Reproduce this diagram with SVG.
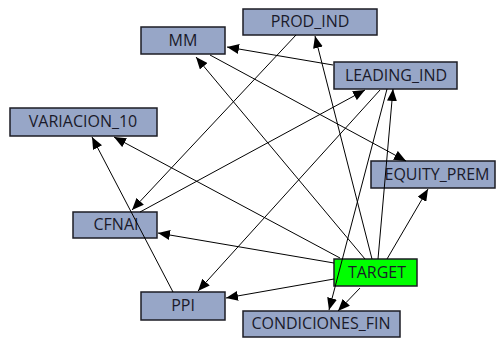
<svg xmlns="http://www.w3.org/2000/svg" width="496" height="338" viewBox="0 0 496 338">
  <defs>
    <marker id="arrow" markerUnits="userSpaceOnUse" markerWidth="13" markerHeight="10" refX="12" refY="5" orient="auto">
      <path d="M0,0 L12,5 L0,10 Z" fill="#000"/>
    </marker>
    <style>
      .node rect { fill: #97a6c7; stroke: #1c1c24; stroke-width: 1.5; }
      .node.target rect { fill: #00ff00; }
      .node text { font-family: "Open Sans", "Noto Sans", sans-serif; font-size: 16px; fill: #1a1a2a; text-anchor: middle; dominant-baseline: central; }
      .edges line { stroke: #000; stroke-width: 1; marker-end: url(#arrow); }
    </style>
  </defs>
  <rect width="496" height="338" fill="#ffffff"/>

  <g id="MM" class="node"><rect x="141" y="27" width="84" height="27"/><text x="183" y="40">MM</text></g>
  <g id="PROD_IND" class="node"><rect x="243" y="9" width="134" height="26"/><text x="310" y="21">PROD_IND</text></g>
  <g id="LEADING_IND" class="node"><rect x="334" y="62" width="123" height="27"/><text x="396" y="75">LEADING_IND</text></g>
  <g id="VARIACION_10" class="node"><rect x="10" y="108" width="147" height="28"/><text x="83" y="121">VARIACION_10</text></g>
  <g id="EQUITY_PREM" class="node"><rect x="371" y="161" width="124" height="27"/><text x="437" y="174">EQUITY_PREM</text></g>
  <g id="CFNAI" class="node"><rect x="73" y="212" width="84" height="26"/><text x="116" y="224">CFNAI</text></g>
  <g id="TARGET" class="node target"><rect x="334" y="259" width="83" height="27"/><text x="377" y="272">TARGET</text></g>
  <g id="PPI" class="node"><rect x="141" y="292" width="84" height="28"/><text x="183" y="305">PPI</text></g>
  <g id="CONDICIONES_FIN" class="node"><rect x="243" y="311" width="157" height="26"/><text x="321" y="323">CONDICIONES_FIN</text></g>

  <g id="connectors" class="edges">
    <line x1="333" y1="65" x2="227" y2="47"/>
    <line x1="210" y1="55" x2="406" y2="161"/>
    <line x1="365" y1="259" x2="196" y2="57"/>
    <line x1="296" y1="35" x2="132" y2="210"/>
    <line x1="140" y1="212" x2="365" y2="90"/>
    <line x1="173" y1="292" x2="92" y2="137"/>
    <line x1="340" y1="258" x2="114" y2="137"/>
    <line x1="334" y1="263" x2="158" y2="233"/>
    <line x1="334" y1="279" x2="226" y2="298"/>
    <line x1="380" y1="90" x2="198" y2="291"/>
    <line x1="378" y1="259" x2="393" y2="89"/>
    <line x1="387" y1="89" x2="329" y2="310"/>
    <line x1="360" y1="288" x2="338" y2="311"/>
    <line x1="387" y1="259" x2="428" y2="189"/>
    <line x1="372" y1="259" x2="315" y2="36"/>
  </g>
</svg>
